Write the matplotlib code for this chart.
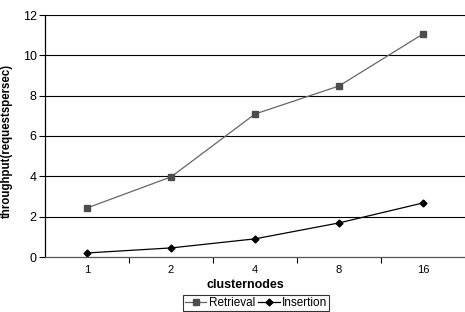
import matplotlib
matplotlib.use("Agg")
import matplotlib.pyplot as plt
from matplotlib.ticker import FixedLocator

categories = ["1", "2", "4", "8", "16"]
retrieval = [2.43, 3.97, 7.09, 8.48, 11.06]
insertion = [0.20, 0.45, 0.90, 1.69, 2.68]
yticks = [0, 2, 4, 6, 8, 10, 12]

plt.rcParams['font.family'] = ['Liberation Sans', 'DejaVu Sans']

fig = plt.figure(figsize=(4.65, 3.12), dpi=100)
ax = fig.add_axes([45/465, 55/312, 420/465, 242/312])

x = list(range(len(categories)))
ax.plot(x, retrieval, color='#666666', lw=0.9, marker='s', ms=5,
        mfc='#4d4d4d', mec='#4d4d4d', label='Retrieval')
ax.plot(x, insertion, color='black', lw=0.9, marker='D', ms=3.5,
        mfc='black', mec='black', label='Insertion')

ax.set_xlim(-0.5, len(categories) - 0.5)
ax.set_ylim(0, 12)
ax.set_yticks(yticks)
ax.set_xticks(x)
ax.set_xticklabels(categories, fontsize=8)
ax.xaxis.set_minor_locator(FixedLocator([i + 0.5 for i in range(len(categories) - 1)]))
ax.tick_params(axis='x', which='major', length=0, pad=6)
ax.tick_params(axis='x', which='minor', length=4, width=0.8, direction='out')
ax.tick_params(axis='y', labelsize=9, length=4, width=0.8, direction='out', pad=2)

for yv in yticks[1:]:
    ax.axhline(yv, color='black', lw=0.8, zorder=0)

for s in ['top', 'right']:
    ax.spines[s].set_visible(False)
ax.spines['left'].set_linewidth(0.9)
ax.spines['bottom'].set_linewidth(0.9)
ax.spines['bottom'].set_color('#555555')

ax.set_xlabel('clusternodes', fontsize=9, fontweight='bold')
ax.xaxis.set_label_coords(0.476, -0.09)
ax.set_ylabel('throughput(requestspersec)', fontsize=8.3, fontweight='bold')
ax.yaxis.set_label_coords(-0.077, 0.48)

leg = fig.legend(loc='lower center', bbox_to_anchor=(0.551, 0.004), ncol=2,
                 fontsize=8.5, frameon=True, fancybox=False, edgecolor='black',
                 handlelength=1.8, handletextpad=0.2, columnspacing=0.3,
                 borderpad=0.15, borderaxespad=0.0)
leg.get_frame().set_linewidth(0.8)

fig.savefig('out.png', dpi=100)
